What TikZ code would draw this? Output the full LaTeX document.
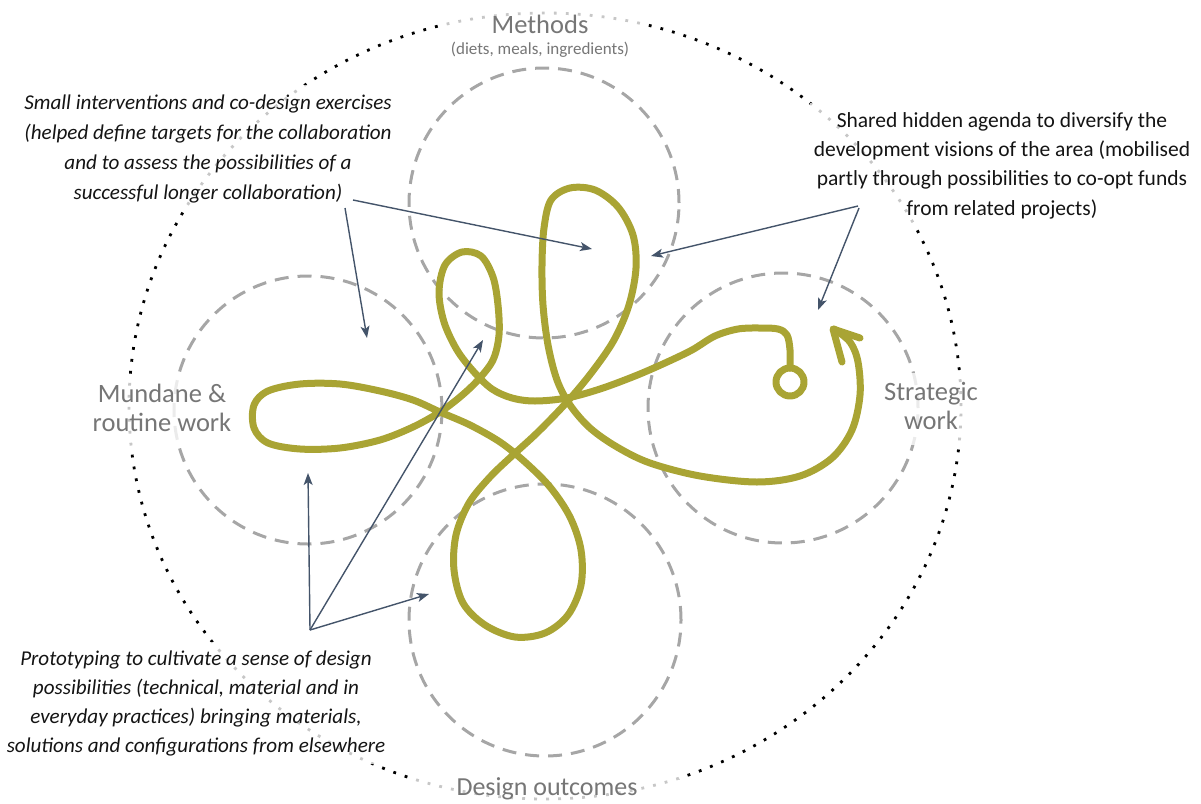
\documentclass[tikz,border=0pt]{standalone}
\usepackage{fontspec}
\setmainfont{Carlito}
\usetikzlibrary{arrows.meta}
\definecolor{loopcol}{RGB}{169,164,52}
\definecolor{arrcol}{RGB}{68,84,106}
\definecolor{dashcol}{RGB}{166,166,166}
\definecolor{labcol}{RGB}{118,118,118}
\definecolor{txtcol}{RGB}{20,20,20}
\newcommand{\mltext}[1]{\begin{tabular}[t]{@{}c@{}}#1\end{tabular}}
\begin{document}
\begin{tikzpicture}[x=1pt,y=-1pt,
  outerdots/.style={line width=2.8pt, dash pattern=on 2.8pt off 9.2pt, black},
  dcircle/.style={draw=dashcol, line width=3pt, dash pattern=on 14pt off 9pt},
  lab/.style={text=labcol, fill=white, fill opacity=0.78, text opacity=1, inner xsep=8pt, inner ysep=7pt, anchor=base, font=\fontsize{26.5}{29}\selectfont},
  ann/.style={text=txtcol, fill=white, fill opacity=0.78, text opacity=1, inner xsep=4pt, inner ysep=3pt, anchor=base, font=\fontsize{21.5}{30}\selectfont},
  loopline/.style={draw=loopcol, line width=7pt, line cap=round, line join=round},
  arr/.style={draw=arrcol, line width=1.4pt, -{Stealth[length=12pt,width=9pt,inset=3pt]}}
]
\useasboundingbox (0,0) rectangle (1201,803);
% outer dotted ellipse
\draw[outerdots] (545,406) ellipse[x radius=416pt, y radius=393pt];
% dashed circles
\draw[dcircle] (544,203) circle[radius=135pt];
\draw[dcircle] (308,410) circle[radius=134pt];
\draw[dcircle] (783,408) circle[radius=135pt];
\draw[dcircle] (545,620) circle[radius=136pt];
% labels
\node[lab, font=\fontsize{26.5}{21}\selectfont, inner xsep=12pt, inner ysep=6pt] (methods) at (540,33) {\mltext{Methods\\{\fontsize{17}{19}\selectfont (diets, meals, ingredients)}}};
\node[lab] (mundane) at (162,402) {\mltext{Mundane \&\\routine work}};
\node[lab] (strategic) at (931,400) {\mltext{Strategic\\work}};
\node[lab, font=\fontsize{26}{29}\selectfont, inner xsep=42pt, inner ysep=5pt] (design) at (547,795) {Design outcomes};
% annotations
\node[ann, font=\fontsize{21.1}{30}\selectfont\itshape] (small) at (208,109) {\mltext{Small interventions and co-design exercises\\(helped define targets for the collaboration\\and to assess the possibilities of a\\successful longer collaboration)}};
\node[ann, font=\fontsize{21.5}{29.4}\selectfont] (shared) at (1002,127) {\mltext{Shared hidden agenda to diversify the\\development visions of the area (mobilised\\partly through possibilities to co-opt funds\\from related projects)}};
\node[ann, font=\fontsize{21.1}{29}\selectfont\itshape] (proto) at (196,665) {\mltext{Prototyping to cultivate a sense of design\\possibilities (technical, material and in\\everyday practices) bringing materials,\\solutions and configurations from elsewhere}};
% the loop
\draw[loopline] plot[smooth, tension=0.55] coordinates {
(790,368) (790,350) (787,335) (778,329) (760,328) (738,329) (715,336) (692,350) (665,363) (635,376) (600,389) (567,398) (535,401) (512,398) (492,389) (474,372) (457,350) (444,322) (439,292) (445,265) (462,252) (481,256) (493,277) (498,305) (499,335) (493,360) (478,380) (460,397) (440,412) (413,427) (380,440) (340,448) (300,449) (268,443) (254,428) (254,405) (268,391) (300,384) (340,384) (380,391) (413,400) (440,412) (470,425) (500,442) (525,462) (550,487) (570,517) (581,550) (581,585) (568,615) (545,633) (515,637) (485,625) (463,603) (454,570) (456,535) (469,503) (490,477) (513,455) (538,432) (567,402) (592,372) (614,340) (629,305) (636,268) (633,235) (618,207) (595,190) (570,188) (551,200) (544,228) (542,265) (543,305) (548,345) (557,380) (570,405) (590,428) (617,447) (650,463) (700,476) (757,482) (800,476) (832,458) (852,430) (860,395) (858,362) (850,342) (834,329)};
\draw[loopline] (790,382) circle[radius=14pt];
\draw[loopline] (842,362) -- (833,329) -- (860,338);
% arrow coordinates
\coordinate (s1) at (353,200);
\coordinate (t1) at (592,249);
\coordinate (s2) at (345,208);
\coordinate (t2) at (367,338);
\coordinate (s3) at (858,206);
\coordinate (t3) at (651,256);
\coordinate (s4) at (859,208);
\coordinate (t4) at (818,310);
\coordinate (p0) at (310,630);
\coordinate (t5) at (308,473);
\coordinate (t6) at (483,340);
\coordinate (t7) at (429,594);
\draw[arr] (s1) -- (t1);
\draw[arr] (s2) -- (t2);
\draw[arr] (s3) -- (t3);
\draw[arr] (s4) -- (t4);
\draw[arr] (p0) -- (t5);
\draw[arr] (p0) -- (t6);
\draw[arr] (p0) -- (t7);
\end{tikzpicture}
\end{document}
